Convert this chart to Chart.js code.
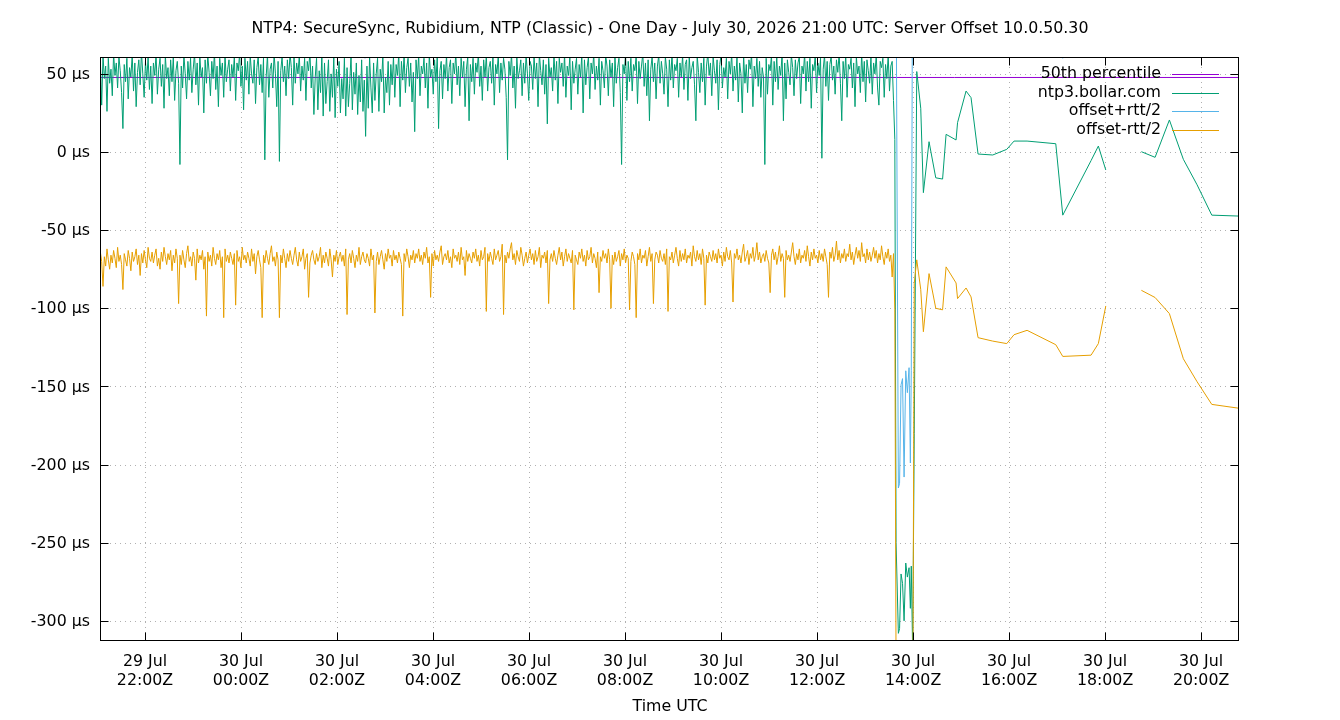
<!DOCTYPE html>
<html><head><meta charset="utf-8">
<script src="https://cdn.jsdelivr.net/npm/chart.js@4"></script>
<style>html,body{margin:0;padding:0;background:#fff}#wrap{width:1340px;height:720px;position:relative}</style>
</head><body><div id="wrap"><canvas id="c" width="1340" height="720"></canvas></div>
<script>
const titleText = "NTP4: SecureSync, Rubidium, NTP (Classic) - One Day - July 30, 2026 21:00 UTC: Server Offset 10.0.50.30";
const xAxisTitle = "Time UTC";
const seriesNames = ["50th percentile", "ntp3.bollar.com", "offset+rtt/2", "offset-rtt/2"];
const seriesColors = ["#9400d3", "#009e73", "#56b4e9", "#e69f00"];

// x axis: hours since 29 Jul 00:00 UTC
const xTickHours = [22, 24, 26, 28, 30, 32, 34, 36, 38, 40, 42, 44];
const xTickDays  = ["29 Jul", "30 Jul", "30 Jul", "30 Jul", "30 Jul", "30 Jul", "30 Jul", "30 Jul", "30 Jul", "30 Jul", "30 Jul", "30 Jul"];
const xTickTimes = ["22:00Z", "00:00Z", "02:00Z", "04:00Z", "06:00Z", "08:00Z", "10:00Z", "12:00Z", "14:00Z", "16:00Z", "18:00Z", "20:00Z"];
const xRange = [21.0625, 44.79];
const yTickValues = [-300, -250, -200, -150, -100, -50, 0, 50];
const yTickUnit = " µs";
const yRange = [-312.9, 60.8];

const percentile50 = 47.7;

// regular polls 29 Jul 21:04 -> 30 Jul 13:37 UTC
const denseStart = 21.07, denseEnd = 37.62;
const denseOffset = [
 58, 30, 62, 47, 55, 26, 60, 44, 53, 36, 63, 49, 57, 41, 61, 52, 38, 15, 56, 45,
 60, 34, 54, 48, 62, 39, 57, 29, 51, 59, 43, 64, 50, 35, 58, 46, 61, 40, 55, 31,
 57, 49, 63, 37, 53, 60, 42, 56, 28, 62, 47, 54, 36, 59, 45, 61, 33, 52, 58, 44,
 -8, 55, 41, 62, 50, 34, 58, 46, 60, 38, 53, 63, 43, 57, 30, 61, 48, 54, 25, 59,
 44, 62, 51, 36, 58, 47, 64, 40, 55, 29, 60, 49, 57, 35, 62, 45, 53, 59, 39, 56,
 48, 61, 33, 57, 52, 63, 42, 55, 27, 60, 46, 58, 37, 62, 50, 44, 59, 31, 54, 61,
 43, 56, 38, 60, -5, 48, 62, 35, 53, 57, 41, 63, 50, 29, 58, -6, 52, 61, 45, 55,
 36, 59, 47, 63, 54, 30, 61, 44, 57, 50, 62, 39, 55, 46, 60, 33, 58, 52, 64, 41,
 55, 24, 48, 60, 27, 52, 38, 62, 23, 57, 31, 45, 59, 26, 50, 35, 61, 22, 53, 42,
 58, 25, 47, 34, 60, 23, 54, 29, 44, 62, 27, 51, 37, 57, 24, 49, 32, 59, 26, 46,
 10, 55, 28, 61, 41, 25, 57, 33, 50, 60, 26, 53, 45, 62, 25, 48, 38, 58, 30, 56,
 43, 61, 35, 56, 49, 63, 29, 58, 46, 62, 38, 54, 60, 42, 57, 32, 51, 13, 59, 47,
 62, 36, 55, 50, 60, 41, 57, 28, 63, 48, 53, 37, 59, 45, 61, 15, 52, 58, 34, 56,
 47, 62, 39, 54, 59, 31, 57, 50, 63, 43, 55, 36, 60, 48, 58, 29, 53, 61, 20, 56,
 45, 60, 37, 57, 51, 63, 42, 55, 33, 59, 48, 62, 39, 54, 58, 44, 61, 30, 56, 50,
 62, 38, 57, 46, 60, 53, 35, -5, 58, 49, 63, 41, 55, 28, 61, 47, 52, 59, 36, 57,
 44, 62, 50, 33, 58, 55, 40, 61, 47, 57, 29, 63, 52, 43, 59, 37, 56, 18, 60, 48,
 54, 39, 62, 46, 58, 31, 60, 51, 57, 42, 63, 35, 55, 49, 61, 27, 58, 44, 53, 60,
 37, 56, 48, 62, 25, 59, 43, 54, 61, 34, 57, 50, 63, 40, 55, 46, 60, 30, 58, 52,
 41, 62, 55, 36, 59, 48, 57, 29, 61, 44, 54, 60, 38, -8, 56, 50, 63, 33, 58, 45,
 60, 39, 56, 52, 62, 31, 58, 47, 55, 63, 42, 57, 36, 59, 20, 53, 61, 45, 57, 34,
 55, 62, 44, 58, 50, 37, 61, 53, 29, 59, 46, 63, 41, 56, 52, 60, 35, 57, 48, 62,
 40, 56, 59, 33, 61, 47, 54, 58, 43, 20, 62, 51, 38, 57, 45, 60, 30, 55, 63, 49,
 57, 36, 61, 52, 44, 59, 27, 56, 62, 41, 54, 48, 60, 34, 58, 50, 63, 39, 55, 46,
 61, 32, 57, 50, 25, 62, 44, 56, 38, 59, 53, 63, 29, 55, 47, 60, 42, 58, 35, 54,
 48, -8, 60, 37, 56, 52, 62, 30, 58, 45, 61, 40, 55, 49, 63, 20, 57, 34, 59, 51,
 43, 62, 54, 36, 59, 47, 57, 61, 31, 55, 50, 63, 39, 58, 45, 60, 28, 56, 52, 62,
 38, 57, 49, 60, -4, 53, 62, 42, 58, 33, 56, 61, 46, 55, 37, 59, 51, 63, 44, 20,
 58, 47, 62, 35, 56, 53, 60, 41, 57, 29, 61, 50, 55, 38, 63, 45, 58, 32, 59, 52,
 44, 61, 37, 57, 50, 62, 41, 30, 58, 54, 60, 35, 56, 47, 62, 39, 55, 58, 33, 8
];
const denseLow = [
 -64, -70, -86, -67, -73, -62, -69, -75, -66, -71, -63, -68, -74, -61, -70, -66, -72, -88, -65, -69,
 -73, -63, -68, -76, -64, -70, -67, -62, -72, -66, -79, -65, -71, -63, -69, -74, -61, -68, -70, -64,
 -71, -66, -62, -73, -68, -75, -64, -70, -61, -67, -72, -65, -69, -63, -76, -66, -71, -62, -68, -97,
 -66, -72, -63, -69, -74, -65, -60, -70, -67, -73, -64, -68, -82, -62, -71, -66, -69, -63, -75, -67,
 -105, -64, -70, -66, -73, -61, -68, -72, -65, -69, -63, -74, -67, -106, -62, -70, -66, -71, -64, -68,
 -72, -65, -98, -63, -70, -67, -74, -61, -69, -66, -71, -64, -68, -73, -62, -70, -65, -78, -67, -63,
 -69, -74, -106, -66, -71, -63, -68, -72, -65, -60, -70, -67, -73, -64, -69, -106, -66, -71, -62, -68,
 -74, -65, -70, -63, -68, -72, -66, -61, -69, -73, -64, -70, -67, -62, -75, -68, -65, -93, -71, -66,
 -63, -69, -72, -65, -70, -67, -61, -74, -66, -71, -64, -68, -73, -62, -69, -80, -66, -70, -63, -72,
 -67, -64, -70, -66, -73, -62, -104, -69, -65, -71, -63, -68, -74, -66, -70, -61, -72, -67, -64, -69,
 -71, -65, -68, -73, -62, -69, -66, -103, -70, -64, -72, -67, -63, -69, -75, -65, -70, -62, -68, -66,
 -73, -63, -69, -66, -71, -64, -68, -72, -105, -65, -70, -62, -67, -74, -66, -69, -63, -71, -65, -68,
 -62, -70, -66, -72, -64, -68, -61, -71, -67, -93, -65, -73, -63, -69, -66, -70, -64, -60, -72, -67,
 -65, -69, -63, -71, -67, -74, -62, -68, -66, -70, -64, -72, -61, -69, -67, -79, -63, -70, -65, -68,
 -71, -64, -68, -62, -70, -66, -73, -63, -69, -67, -61, -102, -65, -70, -64, -68, -72, -62, -69, -66,
 -63, -70, -67, -59, -104, -66, -71, -64, -68, -62, -58, -69, -65, -72, -63, -67, -70, -61, -66, -73,
 -68, -64, -71, -66, -62, -69, -65, -72, -63, -70, -67, -61, -74, -66, -68, -64, -71, -63, -97, -69,
 -65, -70, -63, -68, -72, -66, -61, -69, -64, -73, -67, -62, -70, -65, -68, -71, -63, -101, -66, -69,
 -72, -64, -68, -62, -70, -66, -73, -63, -69, -67, -61, -71, -65, -68, -74, -64, -90, -67, -70, -63,
 -68, -65, -71, -62, -69, -100, -66, -72, -64, -70, -67, -63, -73, -65, -69, -62, -71, -66, -68, -101,
 -70, -64, -67, -72, -106, -65, -69, -62, -71, -66, -68, -63, -73, -67, -61, -70, -65, -97, -69, -64,
 -66, -71, -63, -68, -70, -65, -72, -62, -102, -67, -69, -64, -71, -66, -61, -68, -73, -63, -70, -65,
 -69, -62, -71, -66, -68, -64, -73, -60, -67, -70, -63, -69, -65, -72, -62, -68, -98, -66, -71, -64,
 -67, -70, -63, -69, -65, -71, -62, -68, -66, -73, -64, -70, -61, -67, -69, -63, -71, -96, -65, -68,
 -62, -69, -66, -71, -64, -59, -70, -67, -63, -72, -65, -68, -61, -70, -66, -58, -69, -64, -71, -67,
 -65, -70, -63, -68, -71, -90, -66, -62, -69, -64, -72, -67, -60, -70, -65, -68, -93, -63, -69, -66,
 -70, -64, -58, -67, -72, -65, -69, -62, -71, -66, -68, -63, -70, -60, -67, -73, -64, -69, -62, -68,
 -66, -71, -63, -69, -65, -70, -62, -67, -72, -93, -64, -68, -61, -70, -66, -57, -69, -63, -71, -65,
 -68, -62, -70, -65, -67, -59, -69, -64, -72, -66, -61, -68, -63, -70, -58, -67, -65, -71, -62, -69,
 -64, -70, -66, -61, -68, -63, -71, -65, -69, -60, -67, -72, -64, -68, -62, -70, -66, -80, -65, -101
];

// irregular samples after 13:38 UTC (hours since 29 Jul 00:00)
const sparseTimes = [37.646, 37.694, 37.719, 37.750, 37.781, 37.813, 37.848, 37.881, 37.917, 37.944,
 37.963, 37.992, 38.025, 38.077, 38.160, 38.215, 38.333, 38.473, 38.615, 38.688,
 38.896, 38.927, 39.104, 39.208, 39.354, 39.660, 39.952, 40.104, 40.375, 40.973,
 41.119, 41.708, 41.860, 42.015, 42.400, 42.756, 43.042, 43.340, 43.631, 43.917,
 44.223, 44.798];
const sparseOffset = [-250, -308, -305, -270, -276, -300, -263, -272, -266, -292,
 -265, -320, -180, 51.5, 28, -26, 6.6, -16.5, -17.3, 11.3,
 7.7, 18.8, 39, 34.8, -1.3, -1.9, 1.7, 7, 7, 5.3,
 -40.4, -5.5, 3.8, -11.5, null, 0.2, -3.4, 20.5, -4.7, -21,
 -40.4, -41];
const sparseLow = [-330, -400, -395, -390, -405, -398, -392, -400, -396, -402,
 -394, -380, -84, -69, -88, -115, -77.8, -100, -101, -73.5,
 -83.8, -93.8, -87, -92.7, -118.8, -121, -122.6, -116.9, -114.1, -123.3,
 -130.8, -130, -122.6, -98.5, null, -88.5, -93.1, -103.4, -132.3, -147,
 -161.5, -164];

// offset+rtt/2 (mostly above the plotted range)
const highTimes = [21.07, 22.68, 22.729, 22.78, 24.76, 24.8125, 24.86, 26.53, 26.583, 26.64,
 37.60, 37.646, 37.694, 37.719, 37.750, 37.781, 37.813, 37.848, 37.881, 37.917,
 37.944, 37.963, 37.992, 38.077, 38.688, 39.660, 40.973, 41.119, 41.860, 42.015,
 42.400, 42.756, 43.631, 44.798];
const highValues = [158, 162, 60, 165, 160, 60, 158, 163, 60, 161,
 155, 120, -215, -212, -149, -145, -208, -140, -154, -138,
 -199, -140, 150, 172, 160, 150, 133, 60, 130, 160,
 null, 150, 140, 120];

// ---- build datasets ----
const densePts = (arr) => {
  const step = (denseEnd - denseStart) / (arr.length - 1);
  return arr.map((v, i) => ({ x: denseStart + i * step, y: v }));
};
const pairPts = (ts, vs) => ts.map((t, i) => ({ x: t, y: vs[i] }));

const FONT = "'DejaVu Sans', 'Liberation Sans', sans-serif";
const FS = 15.8;

const framePlugin = {
  id: "frame",
  beforeDatasetsDraw(chart) {
    const { ctx, chartArea: a, scales: { x, y } } = chart;
    ctx.save();
    ctx.strokeStyle = "#b0b0b0";
    ctx.lineWidth = 1;
    ctx.setLineDash([1, 4]);
    xTickHours.forEach(v => {
      const px = Math.round(x.getPixelForValue(v)) + 0.5;
      ctx.beginPath(); ctx.moveTo(px, a.top); ctx.lineTo(px, a.bottom); ctx.stroke();
    });
    yTickValues.forEach(v => {
      const py = Math.round(y.getPixelForValue(v)) + 0.5;
      ctx.beginPath(); ctx.moveTo(a.left, py); ctx.lineTo(a.right, py); ctx.stroke();
    });
    ctx.restore();
  },
  afterDatasetsDraw(chart) {
    const { ctx, chartArea: a, scales: { x, y } } = chart;
    ctx.save();
    ctx.setLineDash([]);
    ctx.strokeStyle = "#000";
    ctx.lineWidth = 1;
    const L = Math.round(a.left) + 0.5, R = Math.round(a.right) - 0.5;
    const T = Math.round(a.top) + 0.5, B = Math.round(a.bottom) - 0.5;
    ctx.strokeRect(L, T, R - L, B - T);
    const tl = 8;
    ctx.beginPath();
    xTickHours.forEach(v => {
      const px = Math.round(x.getPixelForValue(v)) + 0.5;
      ctx.moveTo(px, B); ctx.lineTo(px, B - tl);
      ctx.moveTo(px, T); ctx.lineTo(px, T + tl);
    });
    yTickValues.forEach(v => {
      const py = Math.round(y.getPixelForValue(v)) + 0.5;
      ctx.moveTo(L, py); ctx.lineTo(L + tl, py);
      ctx.moveTo(R, py); ctx.lineTo(R - tl, py);
    });
    ctx.stroke();

    // key (gnuplot style, inside top right)
    ctx.font = FS + "px " + FONT;
    ctx.textAlign = "right";
    ctx.textBaseline = "middle";
    chart.data.datasets.forEach((ds, i) => {
      const ry = 74 + i * 18.5;
      ctx.fillStyle = "#000";
      ctx.fillText(ds.label, 1161, ry);
      ctx.strokeStyle = ds.borderColor;
      ctx.lineWidth = 1;
      ctx.beginPath();
      ctx.moveTo(1172, Math.round(ry) + 0.5); ctx.lineTo(1219, Math.round(ry) + 0.5);
      ctx.stroke();
    });

    // titles
    ctx.textAlign = "center";
    ctx.fillStyle = "#000";
    ctx.fillText(titleText, 670, 29);
    ctx.fillText(xAxisTitle, 670, 707);
    ctx.restore();
  }
};

const tickFont = { family: FONT, size: FS };

new Chart(document.getElementById("c"), {
  type: "line",
  data: {
    datasets: [
      { label: seriesNames[0], data: [{ x: xRange[0], y: percentile50 }, { x: xRange[1], y: percentile50 }],
        borderColor: seriesColors[0], order: 4 },
      { label: seriesNames[1], data: densePts(denseOffset).concat(pairPts(sparseTimes, sparseOffset)),
        borderColor: seriesColors[1], order: 3 },
      { label: seriesNames[2], data: pairPts(highTimes, highValues),
        borderColor: seriesColors[2], order: 2 },
      { label: seriesNames[3], data: densePts(denseLow).concat(pairPts(sparseTimes, sparseLow)),
        borderColor: seriesColors[3], order: 1 }
    ]
  },
  options: {
    responsive: false,
    animation: false,
    spanGaps: false,
    elements: { point: { radius: 0, hoverRadius: 0 }, line: { borderWidth: 1, tension: 0, fill: false } },
    layout: { padding: { left: 0, right: 101, top: 57, bottom: 0 } },
    plugins: { legend: { display: false }, title: { display: false }, tooltip: { enabled: false } },
    events: [],
    scales: {
      x: {
        type: "linear", min: xRange[0], max: xRange[1],
        afterBuildTicks: s => { s.ticks = xTickHours.map(v => ({ value: v })); },
        afterFit: s => { s.height = 79; },
        grid: { display: false, drawTicks: false },
        border: { display: false },
        ticks: {
          padding: 11, maxRotation: 0, minRotation: 0, autoSkip: false, color: "#000", font: tickFont,
          callback: v => { const i = xTickHours.indexOf(v); return i < 0 ? "" : [xTickDays[i], xTickTimes[i]]; }
        }
      },
      y: {
        type: "linear", min: yRange[0], max: yRange[1],
        afterBuildTicks: s => { s.ticks = yTickValues.map(v => ({ value: v })); },
        afterFit: s => { s.width = 100; },
        grid: { display: false, drawTicks: false },
        border: { display: false },
        ticks: {
          padding: 10, labelOffset: 1, color: "#000", font: tickFont,
          callback: v => v + yTickUnit
        }
      }
    }
  },
  plugins: [framePlugin]
});
</script></body></html>
